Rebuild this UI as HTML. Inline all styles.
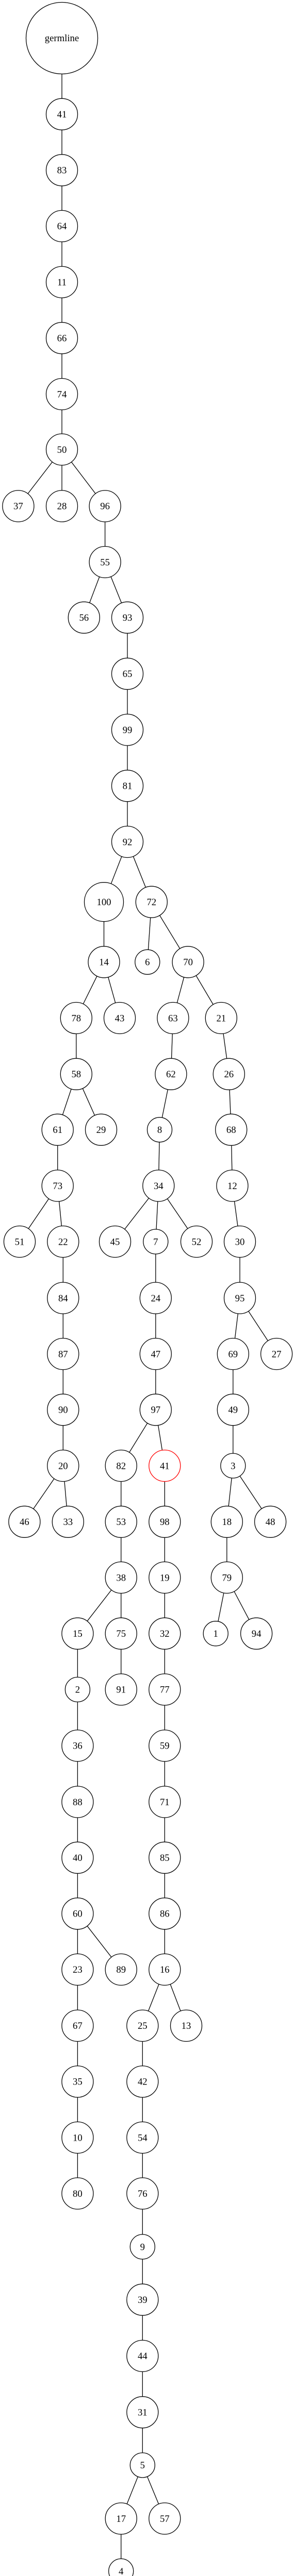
<!DOCTYPE html>
<html><head><meta charset="utf-8"><style>
html,body{margin:0;padding:0;background:#fff;overflow:hidden;width:570px;height:5017px;}
svg{display:block;}
text{font-family:"Liberation Serif",serif;font-size:18.7px;text-anchor:middle;fill:#000;}
circle{fill:#fff;stroke:#000;stroke-width:1.3;}
line{stroke:#000;stroke-width:1.3;}
</style></head><body>
<svg width="570" height="5017" viewBox="0 0 570 5017" xmlns="http://www.w3.org/2000/svg">
<g>
<line x1="120" y1="74" x2="120" y2="872.5"/>
<line x1="120" y1="872.5" x2="35.4" y2="982.4"/>
<line x1="120" y1="872.5" x2="120" y2="982.4"/>
<line x1="120" y1="872.5" x2="203.6" y2="982.4"/>
<line x1="203.6" y1="982.4" x2="203.6" y2="1091"/>
<line x1="203.6" y1="1091" x2="162.8" y2="1198.7"/>
<line x1="203.6" y1="1091" x2="247" y2="1198.7"/>
<line x1="247" y1="1198.7" x2="247" y2="1634"/>
<line x1="247" y1="1634" x2="201.5" y2="1750.7"/>
<line x1="247" y1="1634" x2="293.8" y2="1750.7"/>
<line x1="201.5" y1="1750.7" x2="201.5" y2="1867.3"/>
<line x1="293.8" y1="1750.7" x2="285.8" y2="1867.3"/>
<line x1="293.8" y1="1750.7" x2="364.6" y2="1867.3"/>
<line x1="201.5" y1="1867.3" x2="147.8" y2="1976"/>
<line x1="201.5" y1="1867.3" x2="232" y2="1976"/>
<line x1="364.6" y1="1867.3" x2="335.4" y2="1976"/>
<line x1="364.6" y1="1867.3" x2="428.8" y2="1976"/>
<line x1="147.8" y1="1976" x2="147.8" y2="2084.8"/>
<line x1="335.4" y1="1976" x2="331.4" y2="2084.8"/>
<line x1="428.8" y1="1976" x2="443.8" y2="2084.8"/>
<line x1="147.8" y1="2084.8" x2="111.7" y2="2192.8"/>
<line x1="147.8" y1="2084.8" x2="196" y2="2192.8"/>
<line x1="331.4" y1="2084.8" x2="309.5" y2="2192.8"/>
<line x1="443.8" y1="2084.8" x2="448.2" y2="2192.8"/>
<line x1="111.7" y1="2192.8" x2="111.7" y2="2301.5"/>
<line x1="309.5" y1="2192.8" x2="307.3" y2="2301.5"/>
<line x1="448.2" y1="2192.8" x2="450.4" y2="2301.5"/>
<line x1="111.7" y1="2301.5" x2="38" y2="2410"/>
<line x1="111.7" y1="2301.5" x2="122.3" y2="2410"/>
<line x1="307.3" y1="2301.5" x2="223" y2="2410"/>
<line x1="307.3" y1="2301.5" x2="301.8" y2="2410"/>
<line x1="307.3" y1="2301.5" x2="381" y2="2410"/>
<line x1="450.4" y1="2301.5" x2="465" y2="2410"/>
<line x1="122.3" y1="2410" x2="122.3" y2="2845"/>
<line x1="301.8" y1="2410" x2="301.8" y2="2736.3"/>
<line x1="465" y1="2410" x2="465" y2="2519.5"/>
<line x1="465" y1="2519.5" x2="451.8" y2="2628"/>
<line x1="465" y1="2519.5" x2="536.1" y2="2628"/>
<line x1="451.8" y1="2628" x2="451.8" y2="2845"/>
<line x1="301.8" y1="2736.3" x2="234.7" y2="2845"/>
<line x1="301.8" y1="2736.3" x2="319.3" y2="2845"/>
<line x1="122.3" y1="2845" x2="47.4" y2="2953.8"/>
<line x1="122.3" y1="2845" x2="131.8" y2="2953.8"/>
<line x1="234.7" y1="2845" x2="234.7" y2="3062"/>
<line x1="319.3" y1="2845" x2="319.3" y2="3062"/>
<line x1="451.8" y1="2845" x2="439.8" y2="2953.8"/>
<line x1="451.8" y1="2845" x2="524.1" y2="2953.8"/>
<line x1="439.8" y1="2953.8" x2="439.8" y2="3062"/>
<line x1="234.7" y1="3062" x2="150.4" y2="3170.7"/>
<line x1="234.7" y1="3062" x2="234.7" y2="3279.4"/>
<line x1="319.3" y1="3062" x2="319.3" y2="3822.9"/>
<line x1="439.8" y1="3062" x2="418.2" y2="3170.7"/>
<line x1="439.8" y1="3062" x2="497.1" y2="3170.7"/>
<line x1="150.4" y1="3170.7" x2="150.4" y2="4257.5"/>
<line x1="150.4" y1="3714.3" x2="234.7" y2="3822.9"/>
<line x1="319.3" y1="3822.9" x2="276.3" y2="3931.9"/>
<line x1="319.3" y1="3822.9" x2="361" y2="3931.9"/>
<line x1="276.3" y1="3931.9" x2="276.3" y2="4784.9"/>
<line x1="276.3" y1="4784.9" x2="234.7" y2="4888.5"/>
<line x1="276.3" y1="4784.9" x2="319.3" y2="4888.5"/>
<line x1="234.7" y1="4888.5" x2="234.7" y2="4991.2"/>
</g>
<g>
<circle cx="120" cy="74" r="69.5"/><text x="120" y="80">germline</text>
<circle cx="120" cy="221.7" r="30.5"/><text x="120" y="228">41</text>
<circle cx="120" cy="330.3" r="30.5"/><text x="120" y="336.6">83</text>
<circle cx="120" cy="438.9" r="30.5"/><text x="120" y="445.2">64</text>
<circle cx="120" cy="547.6" r="30.5"/><text x="120" y="553.9">11</text>
<circle cx="120" cy="656.2" r="30.5"/><text x="120" y="662.5">66</text>
<circle cx="120" cy="765" r="30.5"/><text x="120" y="771.3">74</text>
<circle cx="120" cy="872.5" r="30.5"/><text x="120" y="878.8">50</text>
<circle cx="35.4" cy="982.4" r="30.5"/><text x="35.4" y="988.7">37</text>
<circle cx="120" cy="982.4" r="30.5"/><text x="120" y="988.7">28</text>
<circle cx="203.6" cy="982.4" r="30.5"/><text x="203.6" y="988.7">96</text>
<circle cx="203.6" cy="1091" r="30.5"/><text x="203.6" y="1097.3">55</text>
<circle cx="162.8" cy="1198.7" r="30.5"/><text x="162.8" y="1205">56</text>
<circle cx="247" cy="1198.7" r="30.5"/><text x="247" y="1205">93</text>
<circle cx="247" cy="1307.8" r="30.5"/><text x="247" y="1314.1">65</text>
<circle cx="247" cy="1416.6" r="30.5"/><text x="247" y="1422.9">99</text>
<circle cx="247" cy="1525.3" r="30.5"/><text x="247" y="1531.6">81</text>
<circle cx="247" cy="1634" r="30.5"/><text x="247" y="1640.3">92</text>
<circle cx="201.5" cy="1750.7" r="38"/><text x="201.5" y="1757">100</text>
<circle cx="293.8" cy="1750.7" r="30.5"/><text x="293.8" y="1757">72</text>
<circle cx="201.5" cy="1867.3" r="30.5"/><text x="201.5" y="1873.6">14</text>
<circle cx="285.8" cy="1867.3" r="24"/><text x="285.8" y="1873.6">6</text>
<circle cx="364.6" cy="1867.3" r="30.5"/><text x="364.6" y="1873.6">70</text>
<circle cx="147.8" cy="1976" r="30.5"/><text x="147.8" y="1982.3">78</text>
<circle cx="232" cy="1976" r="30.5"/><text x="232" y="1982.3">43</text>
<circle cx="335.4" cy="1976" r="30.5"/><text x="335.4" y="1982.3">63</text>
<circle cx="428.8" cy="1976" r="30.5"/><text x="428.8" y="1982.3">21</text>
<circle cx="147.8" cy="2084.8" r="30.5"/><text x="147.8" y="2091.1">58</text>
<circle cx="331.4" cy="2084.8" r="30.5"/><text x="331.4" y="2091.1">62</text>
<circle cx="443.8" cy="2084.8" r="30.5"/><text x="443.8" y="2091.1">26</text>
<circle cx="111.7" cy="2192.8" r="30.5"/><text x="111.7" y="2199.1">61</text>
<circle cx="196" cy="2192.8" r="30.5"/><text x="196" y="2199.1">29</text>
<circle cx="309.5" cy="2192.8" r="24"/><text x="309.5" y="2199.1">8</text>
<circle cx="448.2" cy="2192.8" r="30.5"/><text x="448.2" y="2199.1">68</text>
<circle cx="111.7" cy="2301.5" r="30.5"/><text x="111.7" y="2307.8">73</text>
<circle cx="307.3" cy="2301.5" r="30.5"/><text x="307.3" y="2307.8">34</text>
<circle cx="450.4" cy="2301.5" r="30.5"/><text x="450.4" y="2307.8">12</text>
<circle cx="38" cy="2410" r="30.5"/><text x="38" y="2416.3">51</text>
<circle cx="122.3" cy="2410" r="30.5"/><text x="122.3" y="2416.3">22</text>
<circle cx="223" cy="2410" r="30.5"/><text x="223" y="2416.3">45</text>
<circle cx="301.8" cy="2410" r="24"/><text x="301.8" y="2416.3">7</text>
<circle cx="381" cy="2410" r="30.5"/><text x="381" y="2416.3">52</text>
<circle cx="465" cy="2410" r="30.5"/><text x="465" y="2416.3">30</text>
<circle cx="122.3" cy="2519.5" r="30.5"/><text x="122.3" y="2525.8">84</text>
<circle cx="301.8" cy="2519.5" r="30.5"/><text x="301.8" y="2525.8">24</text>
<circle cx="465" cy="2519.5" r="30.5"/><text x="465" y="2525.8">95</text>
<circle cx="122.3" cy="2628" r="30.5"/><text x="122.3" y="2634.3">87</text>
<circle cx="301.8" cy="2628" r="30.5"/><text x="301.8" y="2634.3">47</text>
<circle cx="451.8" cy="2628" r="30.5"/><text x="451.8" y="2634.3">69</text>
<circle cx="536.1" cy="2628" r="30.5"/><text x="536.1" y="2634.3">27</text>
<circle cx="122.3" cy="2736.3" r="30.5"/><text x="122.3" y="2742.6">90</text>
<circle cx="301.8" cy="2736.3" r="30.5"/><text x="301.8" y="2742.6">97</text>
<circle cx="451.8" cy="2736.3" r="30.5"/><text x="451.8" y="2742.6">49</text>
<circle cx="122.3" cy="2845" r="30.5"/><text x="122.3" y="2851.3">20</text>
<circle cx="234.7" cy="2845" r="30.5"/><text x="234.7" y="2851.3">82</text>
<circle cx="319.3" cy="2845" r="30.5" style="stroke:#ff0000"/><text x="319.3" y="2851.3">41</text>
<circle cx="451.8" cy="2845" r="24"/><text x="451.8" y="2851.3">3</text>
<circle cx="47.4" cy="2953.8" r="30.5"/><text x="47.4" y="2960.1">46</text>
<circle cx="131.8" cy="2953.8" r="30.5"/><text x="131.8" y="2960.1">33</text>
<circle cx="234.7" cy="2953.8" r="30.5"/><text x="234.7" y="2960.1">53</text>
<circle cx="319.3" cy="2953.8" r="30.5"/><text x="319.3" y="2960.1">98</text>
<circle cx="439.8" cy="2953.8" r="30.5"/><text x="439.8" y="2960.1">18</text>
<circle cx="524.1" cy="2953.8" r="30.5"/><text x="524.1" y="2960.1">48</text>
<circle cx="234.7" cy="3062" r="30.5"/><text x="234.7" y="3068.3">38</text>
<circle cx="319.3" cy="3062" r="30.5"/><text x="319.3" y="3068.3">19</text>
<circle cx="439.8" cy="3062" r="30.5"/><text x="439.8" y="3068.3">79</text>
<circle cx="150.4" cy="3170.7" r="30.5"/><text x="150.4" y="3177">15</text>
<circle cx="234.7" cy="3170.7" r="30.5"/><text x="234.7" y="3177">75</text>
<circle cx="319.3" cy="3170.7" r="30.5"/><text x="319.3" y="3177">32</text>
<circle cx="418.2" cy="3170.7" r="24"/><text x="418.2" y="3177">1</text>
<circle cx="497.1" cy="3170.7" r="30.5"/><text x="497.1" y="3177">94</text>
<circle cx="150.4" cy="3279.4" r="24"/><text x="150.4" y="3285.7">2</text>
<circle cx="234.7" cy="3279.4" r="30.5"/><text x="234.7" y="3285.7">91</text>
<circle cx="319.3" cy="3279.4" r="30.5"/><text x="319.3" y="3285.7">77</text>
<circle cx="150.4" cy="3388.4" r="30.5"/><text x="150.4" y="3394.7">36</text>
<circle cx="319.3" cy="3388.4" r="30.5"/><text x="319.3" y="3394.7">59</text>
<circle cx="150.4" cy="3497.5" r="30.5"/><text x="150.4" y="3503.8">88</text>
<circle cx="319.3" cy="3497.5" r="30.5"/><text x="319.3" y="3503.8">71</text>
<circle cx="150.4" cy="3605.8" r="30.5"/><text x="150.4" y="3612.1">40</text>
<circle cx="319.3" cy="3605.8" r="30.5"/><text x="319.3" y="3612.1">85</text>
<circle cx="150.4" cy="3714.3" r="30.5"/><text x="150.4" y="3720.6">60</text>
<circle cx="319.3" cy="3714.3" r="30.5"/><text x="319.3" y="3720.6">86</text>
<circle cx="150.4" cy="3822.9" r="30.5"/><text x="150.4" y="3829.2">23</text>
<circle cx="234.7" cy="3822.9" r="30.5"/><text x="234.7" y="3829.2">89</text>
<circle cx="319.3" cy="3822.9" r="30.5"/><text x="319.3" y="3829.2">16</text>
<circle cx="150.4" cy="3931.9" r="30.5"/><text x="150.4" y="3938.2">67</text>
<circle cx="276.3" cy="3931.9" r="30.5"/><text x="276.3" y="3938.2">25</text>
<circle cx="361" cy="3931.9" r="30.5"/><text x="361" y="3938.2">13</text>
<circle cx="150.4" cy="4040.4" r="30.5"/><text x="150.4" y="4046.7">35</text>
<circle cx="276.3" cy="4040.4" r="30.5"/><text x="276.3" y="4046.7">42</text>
<circle cx="150.4" cy="4149" r="30.5"/><text x="150.4" y="4155.3">10</text>
<circle cx="276.3" cy="4149" r="30.5"/><text x="276.3" y="4155.3">54</text>
<circle cx="150.4" cy="4257.5" r="30.5"/><text x="150.4" y="4263.8">80</text>
<circle cx="276.3" cy="4257.5" r="30.5"/><text x="276.3" y="4263.8">76</text>
<circle cx="276.3" cy="4361" r="24"/><text x="276.3" y="4367.3">9</text>
<circle cx="276.3" cy="4463.7" r="30.5"/><text x="276.3" y="4470">39</text>
<circle cx="276.3" cy="4572.9" r="30.5"/><text x="276.3" y="4579.2">44</text>
<circle cx="276.3" cy="4682.2" r="30.5"/><text x="276.3" y="4688.5">31</text>
<circle cx="276.3" cy="4784.9" r="24"/><text x="276.3" y="4791.2">5</text>
<circle cx="234.7" cy="4888.5" r="30.5"/><text x="234.7" y="4894.8">17</text>
<circle cx="319.3" cy="4888.5" r="30.5"/><text x="319.3" y="4894.8">57</text>
<circle cx="234.7" cy="4990.5" r="24"/><text x="234.7" y="4996.8">4</text>
</g>
</svg>
</body></html>
